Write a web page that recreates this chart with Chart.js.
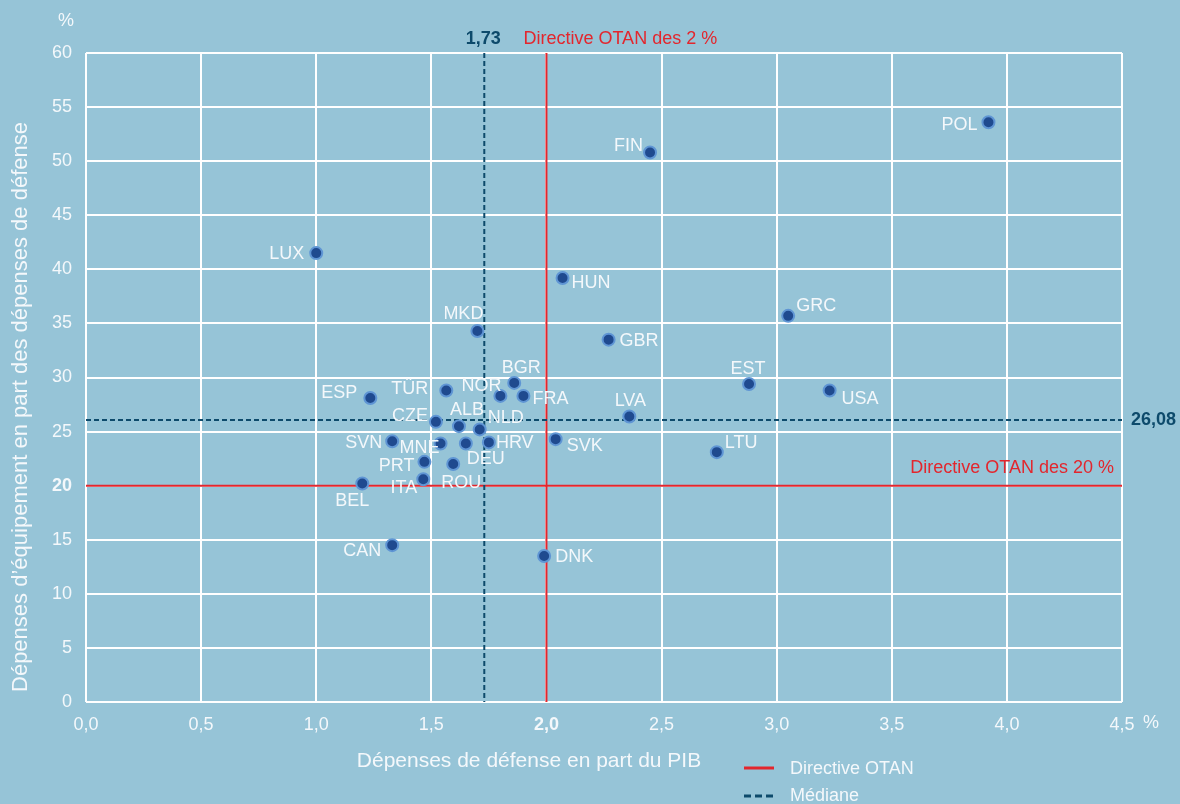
<!DOCTYPE html>
<html lang="fr">
<head>
<meta charset="utf-8">
<title>Dépenses de défense OTAN</title>
<script src="https://cdn.jsdelivr.net/npm/chart.js@4/dist/chart.umd.min.js"></script>
<style>
  html, body { margin: 0; padding: 0; background: #96c4d7; }
  #chart { display: block; }
</style>
</head>
<body>
<canvas id="chart" width="1180" height="804"></canvas>
<script>
// Data
const countries = ['POL', 'FIN', 'LUX', 'HUN', 'MKD', 'GBR', 'GRC', 'EST', 'USA', 'BGR',
    'TÜR', 'NOR', 'FRA', 'ESP', 'LVA', 'CZE', 'ALB', 'NLD', 'SVN', 'MNE',
    'DEU', 'HRV', 'SVK', 'LTU', 'PRT', 'ROU', 'ITA', 'BEL', 'CAN', 'DNK'];
// Dépenses de défense en part du PIB (%)
const defenceSpending = [3.92, 2.45, 1.00, 2.07, 1.70, 2.27, 3.05, 2.88, 3.23, 1.86,
    1.565, 1.80, 1.90, 1.235, 2.36, 1.52, 1.62, 1.71, 1.33, 1.54,
    1.65, 1.75, 2.04, 2.74, 1.47, 1.595, 1.465, 1.20, 1.33, 1.99];
// Dépenses d'équipement en part des dépenses de défense (%)
const equipmentShare = [53.6, 50.8, 41.5, 39.2, 34.3, 33.5, 35.7, 29.4, 28.8, 29.5,
    28.8, 28.3, 28.3, 28.1, 26.4, 25.9, 25.5, 25.2, 24.1, 23.9,
    23.9, 24.0, 24.3, 23.1, 22.2, 22.0, 20.6, 20.2, 14.5, 13.5];

const xTickValues = [0, 0.5, 1, 1.5, 2, 2.5, 3, 3.5, 4, 4.5];
const yTickValues = [0, 5, 10, 15, 20, 25, 30, 35, 40, 45, 50, 55, 60];

const natoSpendingTarget = 2;
const natoEquipmentTarget = 20;
const medianSpending = 1.73;
const medianEquipment = 26.08;

// Label placement next to each point: [align, dx, dy]
const labelPlacement = {
    POL: ['right', -11, 3], FIN: ['right', -7, -6], LUX: ['right', -12, 1],
    HUN: ['left', 9, 5], MKD: ['center', -14, -17], GBR: ['left', 11, 1],
    GRC: ['left', 8, -10], EST: ['center', -1, -15], USA: ['left', 12, 9],
    BGR: ['center', 7, -15], 'TÜR': ['right', -18, -1], NOR: ['right', 1, -10],
    FRA: ['left', 9, 3], ESP: ['right', -13, -5], LVA: ['center', 1, -15],
    CZE: ['right', -8, -6], ALB: ['center', 8, -16], NLD: ['left', 8, -11],
    SVN: ['right', -10, 2], MNE: ['right', -1, 5], DEU: ['left', 1, 16],
    HRV: ['left', 7, 1], SVK: ['left', 11, 7], LTU: ['left', 8, -9],
    PRT: ['right', -10, 4], ROU: ['center', 8, 19], ITA: ['right', -6, 9],
    BEL: ['center', -10, 18], CAN: ['right', -11, 6], DNK: ['left', 11, 1]
};

const FONT = '"Liberation Sans", Arial, sans-serif';
const TEXT = '#f4f8fb';
const RED = '#e3262d';
const NAVY = '#0d4a6b';

const fmt = v => v.toFixed(1).replace('.', ',');
const fmt2 = v => v.toFixed(2).replace('.', ',');

const overlay = {
    id: 'overlay',
    beforeDatasetsDraw(chart) {
        const { ctx, chartArea: a, scales: { x, y } } = chart;
        ctx.save();
        // NATO guidelines
        ctx.strokeStyle = RED;
        ctx.lineWidth = 2;
        ctx.beginPath();
        const xr = x.getPixelForValue(natoSpendingTarget);
        ctx.moveTo(xr, a.top); ctx.lineTo(xr, a.bottom);
        const yr = y.getPixelForValue(natoEquipmentTarget);
        ctx.moveTo(a.left, yr); ctx.lineTo(a.right, yr);
        ctx.stroke();
        // medians
        ctx.strokeStyle = NAVY;
        ctx.setLineDash([5, 3]);
        ctx.beginPath();
        const xm = x.getPixelForValue(medianSpending);
        ctx.moveTo(xm, a.top); ctx.lineTo(xm, a.bottom);
        const ym = y.getPixelForValue(medianEquipment);
        ctx.moveTo(a.left, ym); ctx.lineTo(a.right, ym);
        ctx.stroke();
        ctx.restore();
    },
    afterDatasetsDraw(chart) {
        const { ctx, chartArea: a, scales: { x, y } } = chart;
        const meta = chart.getDatasetMeta(0);
        ctx.save();
        ctx.textBaseline = 'middle';
        ctx.font = '18px ' + FONT;
        ctx.fillStyle = TEXT;
        meta.data.forEach((pt, i) => {
            const [align, dx, dy] = labelPlacement[countries[i]];
            ctx.textAlign = align;
            ctx.fillText(countries[i], pt.x + dx, pt.y + dy);
        });

        // reference line annotations
        const xm = x.getPixelForValue(medianSpending);
        const ym = y.getPixelForValue(medianEquipment);
        const xr = x.getPixelForValue(natoSpendingTarget);
        const yr = y.getPixelForValue(natoEquipmentTarget);
        ctx.font = 'bold 18px ' + FONT;
        ctx.fillStyle = NAVY;
        ctx.textAlign = 'center';
        ctx.fillText(fmt2(medianSpending), xm - 1, a.top - 14);
        ctx.textAlign = 'left';
        ctx.fillText(fmt2(medianEquipment), a.right + 9, ym);
        ctx.font = '18px ' + FONT;
        ctx.fillStyle = RED;
        ctx.fillText('Directive OTAN des 2 %', xr - 23, a.top - 14);
        ctx.textAlign = 'right';
        ctx.fillText('Directive OTAN des 20 %', a.right - 8, yr - 18);

        // unit marks
        ctx.fillStyle = TEXT;
        ctx.textAlign = 'center';
        ctx.fillText('%', 66, a.top - 32);
        ctx.fillText('%', a.right + 29, a.bottom + 21);

        // axis titles
        ctx.font = '21px ' + FONT;
        ctx.fillText('Dépenses de défense en part du PIB', 529, 761);
        ctx.save();
        ctx.font = '22px ' + FONT;
        ctx.translate(21, 407);
        ctx.rotate(-Math.PI / 2);
        ctx.fillText('Dépenses d\u2019équipement en part des dépenses de défense', 0, 0);
        ctx.restore();

        // legend
        ctx.font = '18px ' + FONT;
        ctx.textAlign = 'left';
        ctx.fillText('Directive OTAN', 790, 769);
        ctx.fillText('Médiane', 790, 796);
        ctx.lineWidth = 3;
        ctx.strokeStyle = RED;
        ctx.beginPath(); ctx.moveTo(744, 768); ctx.lineTo(774, 768); ctx.stroke();
        ctx.strokeStyle = NAVY;
        ctx.setLineDash([7, 4]);
        ctx.beginPath(); ctx.moveTo(744, 796); ctx.lineTo(774, 796); ctx.stroke();
        ctx.restore();
    }
};

new Chart(document.getElementById('chart'), {
    type: 'scatter',
    data: {
        datasets: [{
            label: 'Pays',
            data: countries.map((c, i) => ({ x: defenceSpending[i], y: equipmentShare[i] })),
            backgroundColor: '#1f4a8f',
            borderColor: '#5f95d4',
            borderWidth: 2,
            pointRadius: 6,
            pointHoverRadius: 6
        }]
    },
    options: {
        responsive: false,
        animation: false,
        layout: { padding: { top: 53, right: 58, left: 0, bottom: 0 } },
        plugins: {
            legend: { display: false },
            tooltip: { enabled: false }
        },
        scales: {
            x: {
                type: 'linear',
                min: 0,
                max: 4.5,
                afterBuildTicks: s => { s.ticks = xTickValues.map(v => ({ value: v })); },
                afterFit: s => { s.height = 102; },
                grid: { color: '#ffffff', lineWidth: 2, drawTicks: false },
                border: { display: false },
                ticks: {
                    padding: 12,
                    color: TEXT,
                    font: ctx => ({ family: FONT, size: 18, weight: ctx.tick && ctx.tick.value === natoSpendingTarget ? 'bold' : 'normal' }),
                    callback: v => fmt(v)
                }
            },
            y: {
                type: 'linear',
                min: 0,
                max: 60,
                afterBuildTicks: s => { s.ticks = yTickValues.map(v => ({ value: v })); },
                afterFit: s => { s.width = 86; },
                grid: { color: '#ffffff', lineWidth: 2, drawTicks: false },
                border: { display: false },
                ticks: {
                    padding: 14,
                    color: TEXT,
                    font: ctx => ({ family: FONT, size: 18, weight: ctx.tick && ctx.tick.value === natoEquipmentTarget ? 'bold' : 'normal' }),
                    callback: v => String(v)
                }
            }
        }
    },
    plugins: [overlay]
});
</script>
</body>
</html>
